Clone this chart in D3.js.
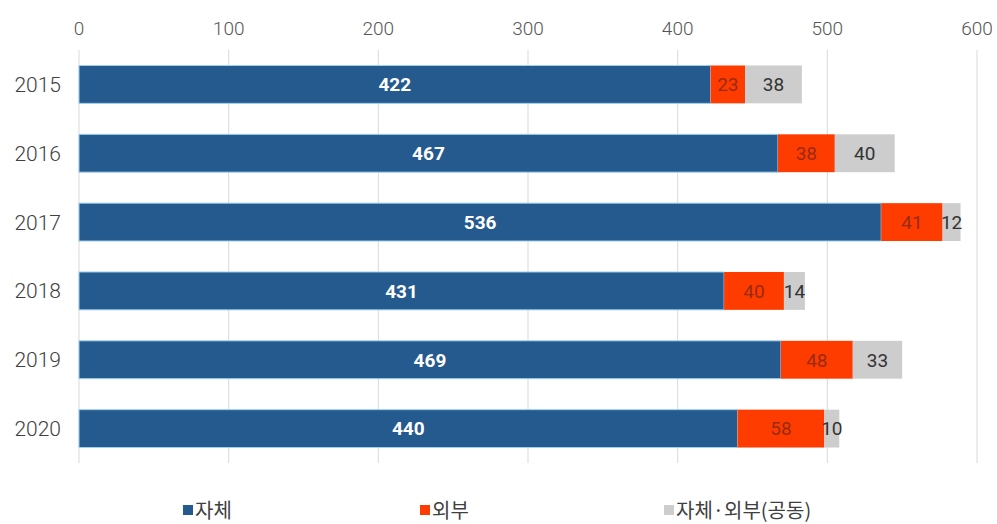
<!DOCTYPE html>
<html>
<head>
<meta charset="utf-8">
<script src="https://cdn.jsdelivr.net/npm/d3@7"></script>
<style>
  body { margin: 0; background: #fff; }
  text { font-family: Roboto, "Noto Sans CJK KR", sans-serif; }
</style>
</head>
<body>
<div id="root"></div>
<script>
const years = ['2015', '2016', '2017', '2018', '2019', '2020'];
const own = [422, 467, 536, 431, 469, 440];
const outside = [23, 38, 41, 40, 48, 58];
const joint = [38, 40, 12, 14, 33, 10];
const seriesNames = ['자체', '외부', '자체·외부(공동)'];
const ticks = [0, 100, 200, 300, 400, 500, 600];

const W = 997, H = 524;
const colours = ['#245a8e', '#ff3c00', '#cdcdcd'];
const labelColours = ['#ffffff', '#9a2a10', '#333333'];

const chart = d3.select('#root')
  .append('svg:svg')
  .attr('width', W)
  .attr('height', H);

const x = d3.scaleLinear().domain([0, 600]).range([79, 977]);
const y = d3.scaleBand().domain(years).range([50, 463])
  .paddingInner(0.45).paddingOuter(0.225);

// rows -> stacked segments
const rows = years.map((yr, i) => ({ year: yr, s0: own[i], s1: outside[i], s2: joint[i] }));
const stack = d3.stack().keys(['s0', 's1', 's2'])(rows);

// Grid lines
chart.append('g').selectAll('line')
  .data(ticks)
  .enter()
    .append('line')
    .attr('x1', d => x(d)).attr('x2', d => x(d))
    .attr('y1', 50).attr('y2', 463)
    .attr('stroke', '#d9d9d9')
    .attr('stroke-width', 1);

// Top axis labels
chart.append('g').selectAll('text')
  .data(ticks)
  .enter()
    .append('text')
    .attr('x', d => x(d))
    .attr('y', 35)
    .attr('text-anchor', 'middle')
    .attr('font-size', 19)
    .attr('font-weight', 300)
    .attr('fill', '#555555')
    .text(d => d);

// Year labels
chart.append('g').selectAll('text')
  .data(years)
  .enter()
    .append('text')
    .attr('x', 61)
    .attr('y', d => y(d) + y.bandwidth() / 2)
    .attr('dy', '0.36em')
    .attr('text-anchor', 'end')
    .attr('font-size', 21)
    .attr('font-weight', 300)
    .attr('fill', '#404040')
    .text(d => d);

// Bars
stack.forEach((layer, si) => {
  const g = chart.append('g');
  g.selectAll('rect')
    .data(layer)
    .enter()
      .append('rect')
      .attr('x', d => x(d[0]))
      .attr('y', d => y(d.data.year))
      .attr('width', d => x(d[1]) - x(d[0]))
      .attr('height', y.bandwidth())
      .attr('fill', colours[si])
      .attr('stroke', si === 0 ? '#9fd0ee' : 'none')
      .attr('stroke-width', si === 0 ? 1 : 0);
  g.selectAll('text')
    .data(layer)
    .enter()
      .append('text')
      .attr('x', d => x((d[0] + d[1]) / 2))
      .attr('y', d => y(d.data.year) + y.bandwidth() / 2)
      .attr('dy', '0.36em')
      .attr('text-anchor', 'middle')
      .attr('font-size', 19)
      .attr('font-weight', si === 0 ? 'bold' : 'normal')
      .attr('fill', labelColours[si])
      .text(d => d[1] - d[0]);
});

// Legend
const legendX = [183, 420, 664];
const legend = chart.append('g').selectAll('g')
  .data(seriesNames)
  .enter()
    .append('g')
    .attr('transform', (d, i) => `translate(${legendX[i]},511)`);
legend.append('rect')
  .attr('x', 0).attr('y', -6)
  .attr('width', 10).attr('height', 10)
  .attr('fill', (d, i) => colours[i]);
legend.append('text')
  .attr('x', 12)
  .attr('y', 0)
  .attr('dy', '0.36em')
  .attr('font-size', 20)
  .attr('fill', '#404040')
  .style('font-family', '"Noto Sans CJK KR", sans-serif')
  .text(d => d);
</script>
</body>
</html>
